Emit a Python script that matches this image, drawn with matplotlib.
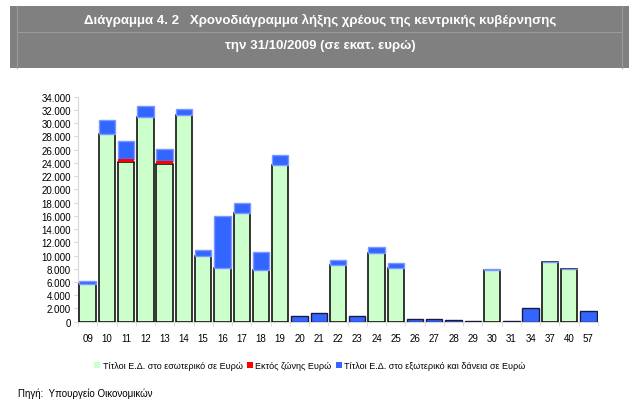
import matplotlib.pyplot as plt
from matplotlib.patches import Rectangle, Patch
import numpy as np

plt.rcParams['font.family'] = ['Liberation Sans Narrow', 'Liberation Sans', 'DejaVu Sans']

years = ['09', '10', '11', '12', '13', '14', '15', '16', '17', '18', '19', '20', '21', '22',
         '23', '24', '25', '26', '27', '28', '29', '30', '31', '34', '37', '40', '57']
domestic = [5700, 28300, 24100, 30950, 23800, 31250, 9950, 8100, 16450, 7750, 23750, 0, 0, 8550,
            0, 10400, 8150, 0, 0, 0, 0, 7800, 0, 0, 8950, 7900, 0]
non_euro = [0, 100, 450, 50, 550, 50, 0, 0, 0, 0, 0, 0, 0, 0,
            0, 0, 0, 0, 0, 0, 0, 0, 0, 0, 0, 0, 0]
foreign = [400, 2050, 2700, 1550, 1700, 850, 900, 7800, 1450, 2850, 1500, 800, 1250, 750,
           800, 850, 700, 450, 350, 300, 80, 150, 60, 2000, 0, 0, 1650]

labels = ['Τίτλοι Ε.Δ. στο εσωτερικό σε Ευρώ', 'Εκτός ζώνης Ευρώ',
          'Τίτλοι Ε.Δ. στο εξωτερικό και δάνεια σε Ευρώ']

GREEN = '#ccffcc'
RED = '#ff0000'
BLUE = '#3366ff'

fig = plt.figure(figsize=(6.41, 4.06), dpi=100)

# header box
W, H = 641, 406
def fx(px): return px / W
def fy(py): return 1 - py / H
fig.patches.append(Rectangle((fx(10), fy(69)), fx(629) - fx(10), fy(7) - fy(69),
                             transform=fig.transFigure, facecolor='#808080', edgecolor='none'))
for x in (17, 622):
    fig.add_artist(plt.Line2D([fx(x), fx(x)], [fy(7), fy(69)], color='#9a9a9a', lw=0.8))
fig.add_artist(plt.Line2D([fx(17), fx(622)], [fy(33), fy(33)], color='#9a9a9a', lw=0.8))
fig.text(0.5, fy(20), 'Διάγραμμα 4. 2   Χρονοδιάγραμμα λήξης χρέους της κεντρικής κυβέρνησης',
         ha='center', va='center', color='white', fontsize=9.5, fontweight='bold')
fig.text(0.5, fy(46), 'την 31/10/2009 (σε εκατ. ευρώ)',
         ha='center', va='center', color='white', fontsize=9.5, fontweight='bold')

ax = fig.add_axes([fx(78), fy(322.7), fx(598) - fx(78), fy(97.7) - fy(322.7)])

x = np.arange(len(years))
dom = np.array(domestic)
ne = np.array(non_euro)
fo = np.array(foreign)
w = 0.85

ax.bar(x, dom, w, color=GREEN, edgecolor='black', linewidth=1.1, zorder=3)
ax.bar(x, ne, w, bottom=dom, color=RED, edgecolor='none', zorder=4)
blue_edges = ['#1a1a40' if d == 0 else '#7a98ff' for d in dom]
ax.bar(x, fo, w, bottom=dom + ne, color=BLUE, edgecolor=blue_edges, linewidth=1.0, zorder=3)

ax.set_xlim(-0.5, len(years) - 0.5)
ax.set_ylim(0, 34000)
ax.set_yticks(np.arange(0, 34001, 2000))
ax.set_yticklabels(['{:,}'.format(v).replace(',', '.') for v in range(0, 34001, 2000)])
ax.set_xticks(x)
ax.set_xticklabels(years)
ax.set_xticks(np.arange(-0.5, len(years), 1), minor=True)
ax.tick_params(axis='x', which='major', length=0, pad=8, labelsize=7)
ax.tick_params(axis='x', which='minor', length=3, color='#d8d8d8')
ax.tick_params(axis='y', length=3, color='#d8d8d8', labelsize=7, pad=2)

for s in ('top', 'right'):
    ax.spines[s].set_visible(False)
for s in ('left', 'bottom'):
    ax.spines[s].set_color('#d8d8d8')

handles = [Patch(facecolor=c, edgecolor='none') for c in (GREEN, RED, BLUE)]
ax.legend(handles, labels, loc='upper center', bbox_to_anchor=(0.446, -0.14), ncol=3,
          frameon=False, fontsize=6.5, handlelength=0.65, handleheight=0.65,
          handletextpad=0.25, columnspacing=0.5)

fig.text(fx(18), fy(394), 'Πηγή:  Υπουργείο Οικονομικών', ha='left', va='center', fontsize=7)

fig.savefig('out.png', dpi=100)
